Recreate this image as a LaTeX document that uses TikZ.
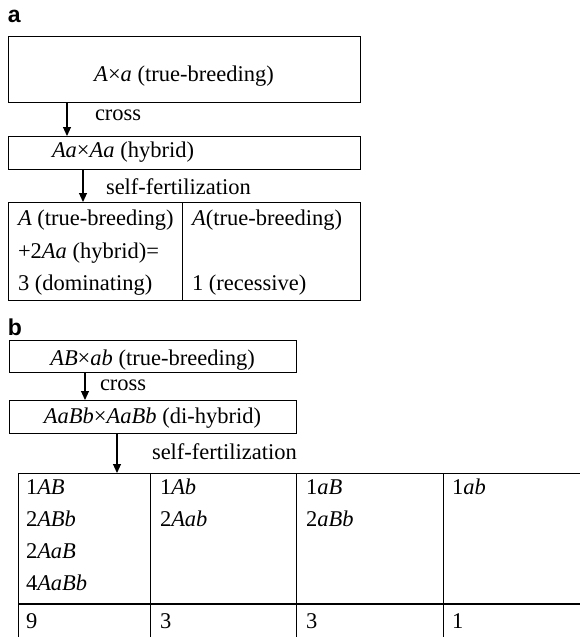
\documentclass[tikz,border=0pt]{standalone}
\usepackage{fontspec}
\setmainfont{Liberation Serif}
\newfontfamily\labfont{Liberation Sans}
\usetikzlibrary{arrows.meta}
\begin{document}
\begin{tikzpicture}[x=1pt,y=-1pt,
  every node/.style={font=\fontsize{22.5}{26}\selectfont, inner sep=0pt, outer sep=0pt},
  box/.style={draw, line width=1pt, minimum width=#1},
  txt/.style={anchor=base west},
  ctxt/.style={anchor=base},
  panel/.style={anchor=base west, font=\labfont\bfseries\fontsize{23}{26}\selectfont},
  arr/.style={line width=1.1pt, -{Triangle[length=9pt,width=8pt]}},
  rule/.style={line width=1pt},
  thick rule/.style={line width=2.2pt}]
\useasboundingbox (0,0) rectangle (580,637);

% ---------- panel a ----------
\node[panel] (la) at (8,23) {a};
\node[box=352pt, minimum height=66pt] (a1) at (184,69) {};
\node[ctxt] (a1t) at (184,81) {\textit{A}×\textit{a} (true-breeding)};
\coordinate (xa1) at (67,0);
\node[txt] (cra) at (95,120) {cross};
\node[box=352pt, minimum height=33pt] (a2) at (184,152.5) {};
\node[txt] (a2t) at (52,157) {\textit{Aa}×\textit{Aa} (hybrid)};
\coordinate (xa2) at (83,0);
\node[txt] (sfa) at (106,194) {self-fertilization};
\node[box=352pt, minimum height=98pt] (ta) at (184,251) {};
\coordinate (xda) at (182,0);
\draw[rule] (ta.north -| xda) -- (ta.south -| xda);
\draw[arr] (a1.south -| xa1) -- (a2.north -| xa1);
\draw[arr] (a2.south -| xa2) -- (ta.north -| xa2);
\node[txt] (ta11) at (18,225) {\textit{A} (true-breeding)};
\node[txt] (ta12) at (192,225) {\textit{A}(true-breeding)};
\node[txt] (ta21) at (18,258) {+2\textit{Aa} (hybrid)=};
\node[txt] (ta31) at (18,290) {3 (dominating)};
\node[txt] (ta32) at (192,290) {1 (recessive)};

% ---------- panel b ----------
\node[panel] (lb) at (8,335) {b};
\node[box=287pt, minimum height=32pt] (b1) at (152.5,356) {};
\node[ctxt] (b1t) at (152.5,365) {\textit{AB}×\textit{ab} (true-breeding)};
\coordinate (xb1) at (85,0);
\node[txt] (crb) at (100,390) {cross};
\node[box=287pt, minimum height=33pt] (b2) at (152.5,416.5) {};
\node[ctxt] (b2t) at (152.5,423) {\textit{AaBb}×\textit{AaBb} (di-hybrid)};
\coordinate (xb2) at (117,0);
\node[txt] (sfb) at (152,459) {self-fertilization};
\node[minimum width=562pt, minimum height=164pt] (tb) at (299,555) {};
\draw[arr] (b1.south -| xb1) -- (b2.north -| xb1);
\draw[arr] (b2.south -| xb2) -- (tb.north -| xb2);
\draw[rule] (tb.north west) -- (tb.north east);
\coordinate (yth) at (0,604);
\draw[thick rule] (tb.west |- yth) -- (tb.east |- yth);
\foreach \c in {18,150,296,443}{
  \draw[rule] (tb.north -| {\c,0}) -- (tb.south -| {\c,0});
}
\node[txt] (c11) at (26,494) {1\textit{AB}};
\node[txt] (c12) at (26,526) {2\textit{ABb}};
\node[txt] (c13) at (26,558) {2\textit{AaB}};
\node[txt] (c14) at (26,590) {4\textit{AaBb}};
\node[txt] (c21) at (160,494) {1\textit{Ab}};
\node[txt] (c22) at (160,526) {2\textit{Aab}};
\node[txt] (c31) at (306,494) {1\textit{aB}};
\node[txt] (c32) at (306,526) {2\textit{aBb}};
\node[txt] (c41) at (452,494) {1\textit{ab}};
\node[txt] (s1) at (26,628) {9};
\node[txt] (s2) at (160,628) {3};
\node[txt] (s3) at (306,628) {3};
\node[txt] (s4) at (452,628) {1};
\end{tikzpicture}
\end{document}
